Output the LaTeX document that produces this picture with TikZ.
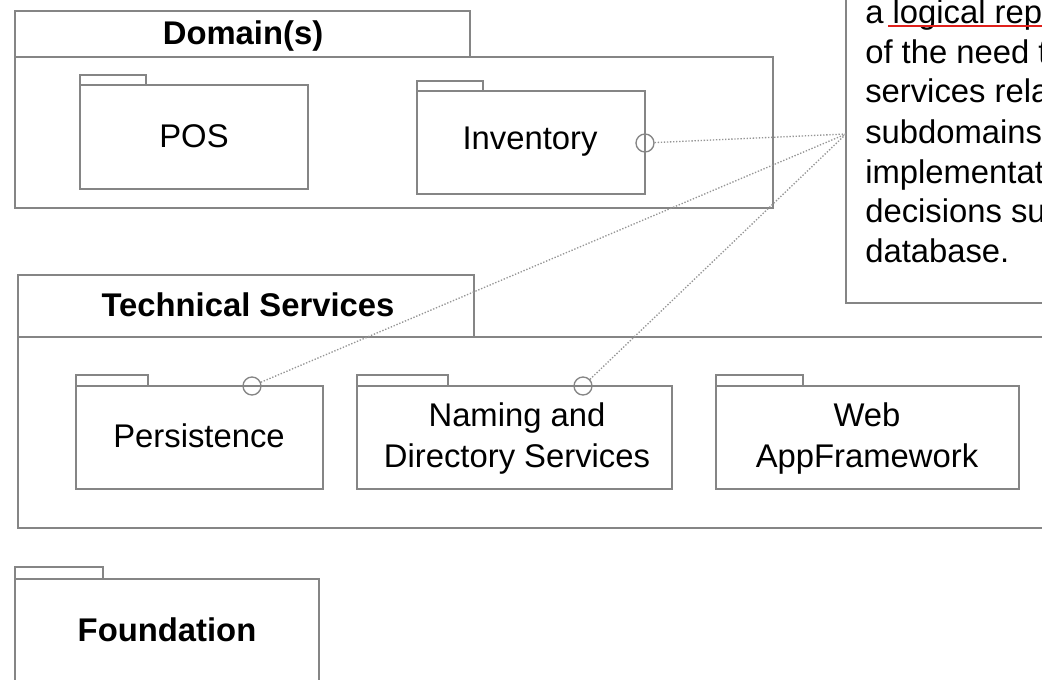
\documentclass[tikz,border=0pt]{standalone}
\usepackage{fontspec}
\setmainfont{Liberation Sans}
\usetikzlibrary{fit}
\definecolor{edge}{HTML}{858585}
\definecolor{dots}{HTML}{959595}
\definecolor{squiggle}{HTML}{E0201B}
\begin{document}
\begin{tikzpicture}[x=0.75pt,y=-0.75pt,
  frame/.style={draw=edge, line width=1.3pt, inner sep=0pt, fill=white},
  label/.style={font=\fontsize{24.6}{30}\selectfont, inner sep=0pt, anchor=base},
  title/.style={font=\fontsize{24.6}{30}\selectfont\bfseries, inner sep=0pt, anchor=base},
  notetext/.style={font=\fontsize{24.6}{30}\selectfont, inner sep=0pt, anchor=base west},
  port/.style={circle, draw=edge, line width=1pt, minimum size=13.5pt, inner sep=0pt},
  link/.style={draw=dots, line width=1pt, dash pattern=on 1pt off 1.3pt},
]
\useasboundingbox (0,0) rectangle (1042,679);
\clip (0,0) rectangle (1042,679);

% ---- note (runs off the top and right) ----
\node[frame, fit={(846,-10) (1070,303)}] (note) {};
\coordinate (hub) at (846,134);
\node[notetext] (n1) at (865,23) {a logical rep};
\node[notetext] (n2) at (865,63) {of the need t};
\node[notetext] (n3) at (865,102) {services rela};
\node[notetext] (n4) at (865,143) {subdomains};
\node[notetext] (n5) at (865,183) {implementat};
\node[notetext] (n6) at (865,222) {decisions su};
\node[notetext] (n7) at (865,262) {database.};
\coordinate (ulA) at (888,26);
\coordinate (ulB) at (1050,26);
\draw[squiggle, line width=1.5pt] (ulA) -- (ulB);

% ---- Domain(s) package ----
\node[frame, fit={(15,11) (470,57)}] (domtab) {};
\node[frame, fit={(15,57) (773,208)}] (dombody) {};
\node[title] (domtitle) at (243,44) {Domain(s)};

\node[frame, fit={(80,75) (146,85)}] (postab) {};
\node[frame, fit={(80,85) (308,189)}] (pos) {};
\node[label] (postext) at (194,147) {POS};

\node[frame, fit={(417,81) (483,91)}] (invtab) {};
\node[frame, fit={(417,91) (645,194)}] (inv) {};
\node[label] (invtext) at (530,149) {Inventory};

% ---- Technical Services package ----
\node[frame, fit={(18,275) (474,337)}] (techtab) {};
\node[frame, fit={(18,337) (1070,528)}] (techbody) {};
\node[title] (techtitle) at (248,316) {Technical Services};

\node[frame, fit={(76,375) (148,386)}] (perstab) {};
\node[frame, fit={(76,386) (323,489)}] (pers) {};
\node[label] (perstext) at (199,447) {Persistence};

\node[frame, fit={(357,375) (448,386)}] (namtab) {};
\node[frame, fit={(357,386) (672,489)}] (nam) {};
\node[label] (namtextA) at (517,426) {Naming and};
\node[label] (namtextB) at (517,467) {Directory Services};

\node[frame, fit={(716,375) (803,386)}] (webtab) {};
\node[frame, fit={(716,386) (1019,489)}] (web) {};
\node[label] (webtextA) at (867,426) {Web};
\node[label] (webtextB) at (867,467) {AppFramework};

% ---- Foundation package ----
\node[frame, fit={(15,567) (103,579)}] (fndtab) {};
\node[frame, fit={(15,579) (319,700)}] (fnd) {};
\node[title] (fndtext) at (167,641) {Foundation};

% ---- interface ports and their dotted links to the note ----
\node[port] (invport) at (645,143) {};
\node[port] (persport) at (252,386) {};
\node[port] (namport) at (583,386) {};
\draw[link] (invport) -- (hub);
\draw[link] (persport) -- (hub);
\draw[link] (namport) -- (hub);
\end{tikzpicture}
\end{document}
